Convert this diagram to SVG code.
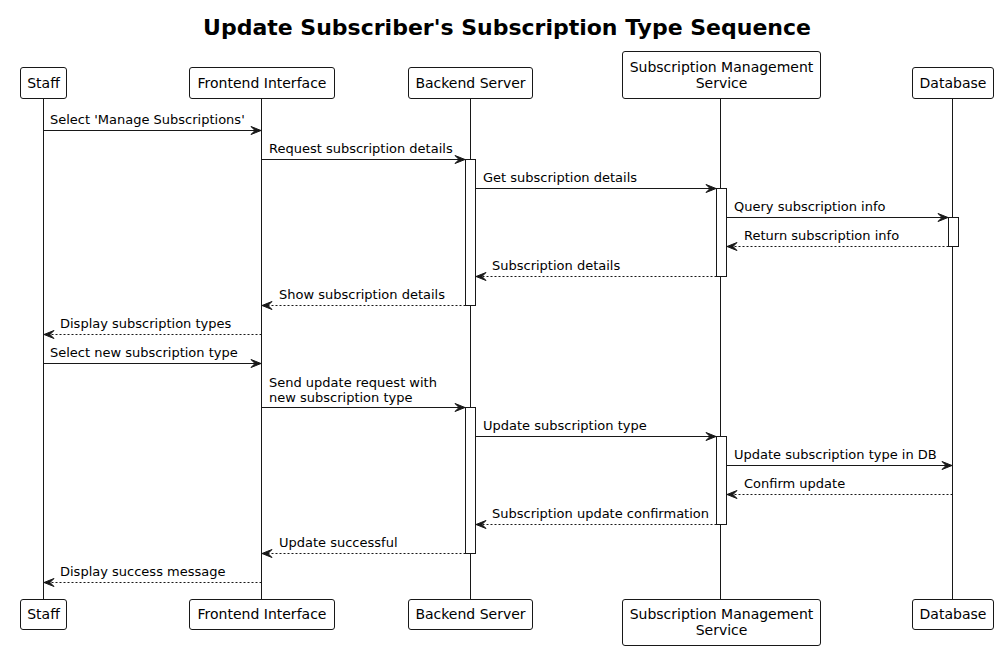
<svg xmlns="http://www.w3.org/2000/svg" width="998" height="651" viewBox="0 0 998 651">
<style>
text{font-family:"DejaVu Sans","Liberation Sans",sans-serif;fill:#000}
.title{font-size:22px;font-weight:bold}
.pt{font-size:14px}
.msg{font-size:13px}
.box{fill:#fff;stroke:#181818;stroke-width:1}
.life{stroke:#181818;stroke-width:1}
.act{fill:#fff;stroke:#181818;stroke-width:1}
.m{stroke:#181818;stroke-width:1;fill:none;marker-end:url(#ah)}
.d{stroke-dasharray:2,2}
</style>
<defs>
<marker id="ah" viewBox="-11 -5 12 10" refX="0" refY="0" markerWidth="12" markerHeight="10" markerUnits="userSpaceOnUse" orient="auto">
<path d="M0,0 L-10,-4 L-6,0 L-10,4 Z" fill="#181818" stroke="#181818" stroke-width="1" stroke-dasharray="none"/>
</marker>
</defs>
<rect width="998" height="651" fill="#fff"/>
<text class="title" x="507" y="35" text-anchor="middle">Update Subscriber's Subscription Type Sequence</text>

<g id="lifelines">
<line class="life" x1="43.5" y1="98.5" x2="43.5" y2="599.5"/>
<line class="life" x1="261.5" y1="98.5" x2="261.5" y2="599.5"/>
<line class="life" x1="470.5" y1="98.5" x2="470.5" y2="599.5"/>
<line class="life" x1="720.5" y1="98.5" x2="720.5" y2="599.5"/>
<line class="life" x1="952.5" y1="98.5" x2="952.5" y2="599.5"/>
</g>

<g id="activations">
<rect class="act" x="465.5" y="159.5" width="10" height="146"/>
<rect class="act" x="716.5" y="188.5" width="10" height="88"/>
<rect class="act" x="948.5" y="217.5" width="10" height="29"/>
<rect class="act" x="465.5" y="407.5" width="10" height="146"/>
<rect class="act" x="716.5" y="436.5" width="10" height="88"/>
</g>

<g id="node-staff">
<rect class="box" x="20.5" y="67.5" width="46" height="31" rx="2.5"/>
<text class="pt" x="43.5" y="88" text-anchor="middle">Staff</text>
<rect class="box" x="20.5" y="599.5" width="46" height="30" rx="2.5"/>
<text class="pt" x="43.5" y="619" text-anchor="middle">Staff</text>
</g>
<g id="node-frontend">
<rect class="box" x="189.5" y="67.5" width="145" height="31" rx="2.5"/>
<text class="pt" x="262" y="88" text-anchor="middle">Frontend Interface</text>
<rect class="box" x="189.5" y="599.5" width="145" height="30" rx="2.5"/>
<text class="pt" x="262" y="619" text-anchor="middle">Frontend Interface</text>
</g>
<g id="node-backend">
<rect class="box" x="408.5" y="67.5" width="124" height="31" rx="2.5"/>
<text class="pt" x="470.5" y="88" text-anchor="middle">Backend Server</text>
<rect class="box" x="408.5" y="599.5" width="124" height="30" rx="2.5"/>
<text class="pt" x="470.5" y="619" text-anchor="middle">Backend Server</text>
</g>
<g id="node-sms">
<rect class="box" x="622.5" y="51.5" width="198" height="47" rx="2.5"/>
<text class="pt" x="721.5" y="72" text-anchor="middle">Subscription Management</text>
<text class="pt" x="721.5" y="88" text-anchor="middle">Service</text>
<rect class="box" x="622.5" y="599.5" width="198" height="46" rx="2.5"/>
<text class="pt" x="721.5" y="619" text-anchor="middle">Subscription Management</text>
<text class="pt" x="721.5" y="635" text-anchor="middle">Service</text>
</g>
<g id="node-database">
<rect class="box" x="912.5" y="67.5" width="81" height="31" rx="2.5"/>
<text class="pt" x="953" y="88" text-anchor="middle">Database</text>
<rect class="box" x="912.5" y="599.5" width="81" height="30" rx="2.5"/>
<text class="pt" x="953" y="619" text-anchor="middle">Database</text>
</g>

<g id="connectors">
<line class="m" x1="43.5" y1="130.5" x2="261" y2="130.5"/>
<text class="msg" x="50" y="124">Select 'Manage Subscriptions'</text>

<line class="m" x1="261.5" y1="159.5" x2="465" y2="159.5"/>
<text class="msg" x="269" y="153">Request subscription details</text>

<line class="m" x1="475.5" y1="188.5" x2="716" y2="188.5"/>
<text class="msg" x="483" y="182">Get subscription details</text>

<line class="m" x1="726.5" y1="217.5" x2="948" y2="217.5"/>
<text class="msg" x="734" y="211">Query subscription info</text>

<line class="m d" x1="948.5" y1="246.5" x2="727" y2="246.5"/>
<text class="msg" x="744" y="240">Return subscription info</text>

<line class="m d" x1="716.5" y1="276.5" x2="476" y2="276.5"/>
<text class="msg" x="492" y="270">Subscription details</text>

<line class="m d" x1="465.5" y1="305.5" x2="262" y2="305.5"/>
<text class="msg" x="279" y="299">Show subscription details</text>

<line class="m d" x1="261.5" y1="334.5" x2="44" y2="334.5"/>
<text class="msg" x="60" y="328">Display subscription types</text>

<line class="m" x1="43.5" y1="363.5" x2="261" y2="363.5"/>
<text class="msg" x="50" y="357">Select new subscription type</text>

<line class="m" x1="261.5" y1="407.5" x2="465" y2="407.5"/>
<text class="msg" x="269" y="386.5">Send update request with</text>
<text class="msg" x="269" y="401.5">new subscription type</text>

<line class="m" x1="475.5" y1="436.5" x2="716" y2="436.5"/>
<text class="msg" x="483" y="430">Update subscription type</text>

<line class="m" x1="726.5" y1="465.5" x2="952" y2="465.5"/>
<text class="msg" x="734" y="459">Update subscription type in DB</text>

<line class="m d" x1="952.5" y1="494.5" x2="727" y2="494.5"/>
<text class="msg" x="744" y="488">Confirm update</text>

<line class="m d" x1="716.5" y1="524.5" x2="476" y2="524.5"/>
<text class="msg" x="492" y="518">Subscription update confirmation</text>

<line class="m d" x1="465.5" y1="553.5" x2="262" y2="553.5"/>
<text class="msg" x="279" y="547">Update successful</text>

<line class="m d" x1="261.5" y1="582.5" x2="44" y2="582.5"/>
<text class="msg" x="60" y="576">Display success message</text>
</g>
</svg>
